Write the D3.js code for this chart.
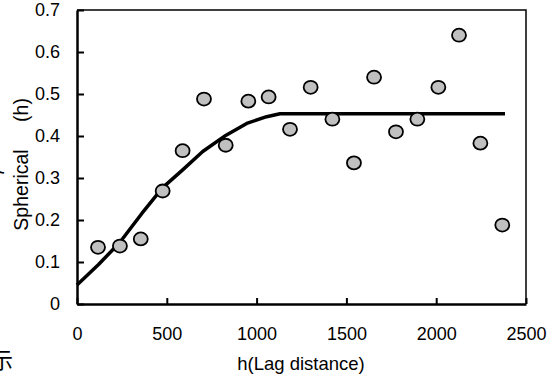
<!DOCTYPE html>
<html>
<head>
<meta charset="utf-8">
<script src="https://cdn.jsdelivr.net/npm/d3@7"></script>
<style>
  body { margin: 0; background: #fff; }
  text { font-family: "Liberation Sans", Arial, sans-serif; fill: #000; }
</style>
</head>
<body>
<div id="chart"></div>
<script>
var lagDist = [117, 239, 355, 477, 588, 707, 828, 954, 1067, 1186,
               1301, 1422, 1542, 1654, 1776, 1895, 2012, 2127, 2246, 2368]
var semiVar = [0.135, 0.138, 0.155, 0.269, 0.365, 0.488, 0.378, 0.483, 0.493, 0.416,
               0.516, 0.440, 0.336, 0.540, 0.410, 0.440, 0.516, 0.640, 0.383, 0.188]

// fitted spherical model line
var modelX = [0, 120, 239, 360, 477, 590, 700, 830, 945, 1056, 1130, 2383]
var modelY = [0.045, 0.094, 0.147, 0.215, 0.277, 0.320, 0.363, 0.402, 0.430, 0.446, 0.453, 0.453]

var xTicks = [0, 500, 1000, 1500, 2000, 2500]
var yTicks = [0, 0.1, 0.2, 0.3, 0.4, 0.5, 0.6, 0.7]

var width = 557, height = 378
var margin = {top: 10, right: 31, bottom: 74, left: 77}

var svg = d3.select("#chart").append("svg")
    .attr("width", width)
    .attr("height", height)

var x = d3.scaleLinear().domain([0, 2500]).range([margin.left, width - margin.right])
var y = d3.scaleLinear().domain([0, 0.7]).range([height - margin.bottom, margin.top])

// frame: top / right thin
svg.append("path")
    .attr("d", "M" + x(0) + "," + y(0.7) + "H" + x(2500) + "V" + y(0))
    .attr("fill", "none")
    .attr("stroke", "#000")
    .attr("stroke-width", 1.5)

var xAxis = svg.append("g")
    .attr("transform", "translate(0," + y(0) + ")")
    .call(d3.axisBottom(x).tickValues(xTicks).tickSizeInner(-6).tickSizeOuter(0).tickPadding(23)
        .tickFormat(d3.format("d")))
xAxis.select(".domain").attr("stroke-width", 2.5)
xAxis.selectAll(".tick line").attr("stroke-width", 2)
xAxis.selectAll(".tick text").attr("font-size", "18px").attr("font-family", "Liberation Sans, Arial")

var yAxis = svg.append("g")
    .attr("transform", "translate(" + x(0) + ",0)")
    .call(d3.axisLeft(y).tickValues(yTicks).tickSizeInner(-7).tickSizeOuter(0).tickPadding(17)
        .tickFormat(function(d) { return d === 0 ? "0" : d3.format(".1f")(d) }))
yAxis.select(".domain").attr("stroke-width", 2.5)
yAxis.selectAll(".tick line").attr("stroke-width", 2)
yAxis.selectAll(".tick text").attr("font-size", "18px").attr("font-family", "Liberation Sans, Arial")

// model line
var line = d3.line()
    .x(function(d) { return x(d[0]) })
    .y(function(d) { return y(d[1]) })

svg.append("path")
    .datum(d3.zip(modelX, modelY))
    .attr("d", line)
    .attr("fill", "none")
    .attr("stroke", "#000")
    .attr("stroke-width", 3.5)
    .attr("stroke-linejoin", "round")

// points
svg.selectAll(".pt")
    .data(d3.zip(lagDist, semiVar))
    .enter()
    .append("ellipse")
    .attr("class", "pt")
    .attr("cx", function(d) { return x(d[0]) })
    .attr("cy", function(d) { return y(d[1]) })
    .attr("rx", 7)
    .attr("ry", 6.5)
    .attr("fill", "#c0c0c0")
    .attr("stroke", "#000")
    .attr("stroke-width", 1.8)

// titles
svg.append("text")
    .attr("x", 301)
    .attr("y", 370)
    .attr("text-anchor", "middle")
    .attr("font-size", "18.5px")
    .text("h(Lag distance)")

svg.append("text")
    .attr("transform", "translate(28,190) rotate(-90)")
    .attr("text-anchor", "middle")
    .attr("font-size", "19.5px")
    .text("Spherical")

svg.append("text")
    .attr("transform", "translate(28,110) rotate(-90)")
    .attr("text-anchor", "middle")
    .attr("font-size", "19.5px")
    .text("(h)")

// clipped glyphs at the left edge
svg.append("text")
    .attr("transform", "translate(0,172) rotate(-90)")
    .attr("text-anchor", "middle")
    .attr("font-size", "19.5px")
    .text("γ")

svg.append("text")
    .attr("x", -9)
    .attr("y", 368)
    .attr("font-size", "22px")
    .style("font-family", "Noto Sans CJK SC")
    .text("示")
</script>
</body>
</html>
